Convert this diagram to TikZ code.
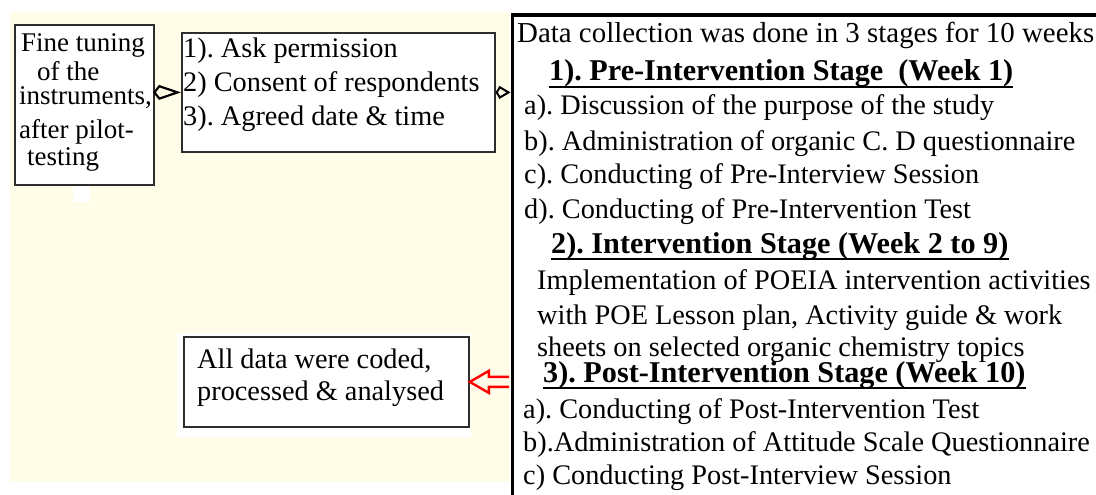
\documentclass[tikz,border=0pt]{standalone}
\usepackage{fontspec}
\setmainfont{Liberation Serif}
\usetikzlibrary{arrows.meta,calc}

\definecolor{cream}{RGB}{255,253,232}
\definecolor{boxline}{RGB}{45,45,45}

\frenchspacing

\begin{document}
\begin{tikzpicture}[x=1pt, y=-1pt]
    \tikzset{box/.style={draw=boxline, fill=white, line width=1.8pt, inner sep=0pt, anchor=north west},
             txt/.style={inner sep=0pt, anchor=base west, font=\fontsize{28.3}{34}\selectfont},
             small/.style={txt, font=\fontsize{27}{32}\selectfont},
             head/.style={txt, font=\fontsize{30.2}{36}\selectfont\bfseries},
             uline/.style={line width=2pt}};

    \useasboundingbox (0, 0) rectangle (1096, 495);

    % Page background
    \fill[cream] (10, 12) rectangle (510, 482);
    \fill[white] (177, 333) rectangle (471, 437);
    \fill[white] (73, 186) rectangle (90, 202);

    % Boxes
    \node[box, minimum width=139, minimum height=160] (tuning) at (14, 24) {};
    \node[box, minimum width=313, minimum height=119] (consent) at (181, 32) {};
    \node[box, minimum width=285, minimum height=90] (coded) at (183, 336) {};
    \node[box, draw=black, line width=3.5pt, minimum width=700, minimum height=600] (stages) at (510.5, 13.5) {};

    % Fine tuning
    \node[small] (t1) at (21, 52) {Fine tuning};
    \node[small] (t2) at (37, 81) {of the};
    \node[small] (t3) at (19, 104) {instruments,};
    \node[small] (t4) at (19, 139) {after pilot-};
    \node[small] (t5) at (27, 165) {testing};

    % Permission
    \node[txt] (c1) at (183, 58) {1). Ask permission};
    \node[txt] (c2) at (183, 92) {2) Consent of respondents};
    \node[txt] (c3) at (183, 125) {3). Agreed date \& time};

    % Analysis
    \node[txt] (d1) at (197, 368) {All data were coded,};
    \node[txt] (d2) at (197, 400) {processed \& analysed};

    % Stages
    \node[txt, font=\fontsize{28.9}{34}\selectfont] (s0) at (517, 43) {Data collection was done in 3 stages for 10 weeks};
    \node[head] (h1) at (549, 81) {1). Pre-Intervention Stage\ \ (Week 1)};
    \node[txt] (p1) at (524, 114) {a). Discussion of the purpose of the study};
    \node[txt] (p2) at (524, 150) {b). Administration of organic C. D questionnaire};
    \node[txt] (p3) at (524, 183) {c). Conducting of Pre-Interview Session};
    \node[txt] (p4) at (524, 218) {d). Conducting of Pre-Intervention Test};
    \node[head] (h2) at (551, 253) {2). Intervention Stage (Week 2 to 9)};
    \node[txt] (i1) at (537, 289) {Implementation of POEIA intervention activities};
    \node[txt] (i2) at (537, 324) {with POE Lesson plan, Activity guide \& work};
    \node[txt] (i3) at (537, 356) {sheets on selected organic chemistry topics};
    \node[head] (h3) at (543, 382) {3). Post-Intervention Stage (Week 10)};
    \node[txt] (q1) at (523, 418) {a). Conducting of Post-Intervention Test};
    \node[txt] (q2) at (523, 451) {b).Administration of Attitude Scale Questionnaire};
    \node[txt] (q3) at (523, 484) {c) Conducting Post-Interview Session};

    % Heading underlines
    \foreach \h in {h1, h2, h3}
        \draw[uline] ($(\h.base west) + (0, 6)$) -- ($(\h.base east) + (0, 6)$);

    % Arrows
    \draw[line width=2.2pt, -{Kite[open, length=28pt, width=15pt, inset=6pt]}]
        (tuning.east |- consent.west) -- (consent.west);
    \draw[line width=2pt, -{Kite[open, length=15pt, width=13pt, inset=4pt]}]
        (consent.east) -- (consent.east -| stages.west);
    \draw[red, line width=2.4pt, line join=miter]
        ($(coded.east -| stages.west) + (-1.5, -5)$) -- ($(coded.east) + (19, -5)$)
        -- ++(0, -6) -- (coded.east) -- ($(coded.east) + (19, 11)$) -- ++(0, -6)
        -- ($(coded.east -| stages.west) + (-1.5, 5)$);
\end{tikzpicture}
\end{document}
